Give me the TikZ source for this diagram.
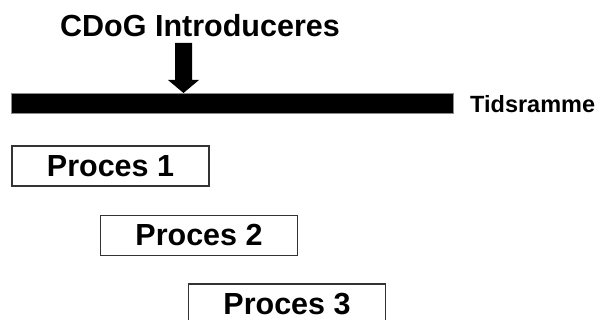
\documentclass[tikz,border=0pt]{standalone}
\usepackage{fontspec}
\setmainfont{Liberation Sans}[BoldFont={Liberation Sans Bold}]
\begin{document}
\begin{tikzpicture}[x=1pt,y=-1pt,
  procbox/.style={draw=black!80,line width=1.2pt,fill=white,minimum width=197pt,minimum height=40pt,inner sep=0pt,
    font=\fontsize{30.5}{36}\selectfont\bfseries},
  bigtext/.style={anchor=base,inner sep=0pt,font=\fontsize{30.5}{36}\selectfont\bfseries},
  smalltext/.style={anchor=base west,inner sep=0pt,font=\fontsize{23.5}{28}\selectfont\bfseries}]
  \useasboundingbox (0,0) rectangle (600,320);
  \clip (0,0) rectangle (600,320);
  \fill[white] (0,0) rectangle (600,320);

  % title and time bar
  \node[bigtext] (title) at (200,37) {CDoG Introduceres};
  \node[draw=black!45,line width=0.6pt,fill=black,minimum width=442pt,minimum height=20pt,inner sep=0pt]
    (bar) at (232,103.5) {};
  \node[smalltext] (frame) at (470,113) {Tidsramme};

  % block arrow pointing at the bar
  \coordinate (tip) at (183.5,93);
  \fill[black] (175,43) -- (192,43) -- (192,80) -- (199,80) -- (tip) -- (168,80) -- (175,80) -- cycle;

  % processes
  \node[procbox] (p1) at (110.5,166) {Proces 1};
  \node[procbox] (p2) at (199,235.5) {Proces 2};
  \node[procbox] (p3) at (287,304) {Proces 3};
\end{tikzpicture}
\end{document}
